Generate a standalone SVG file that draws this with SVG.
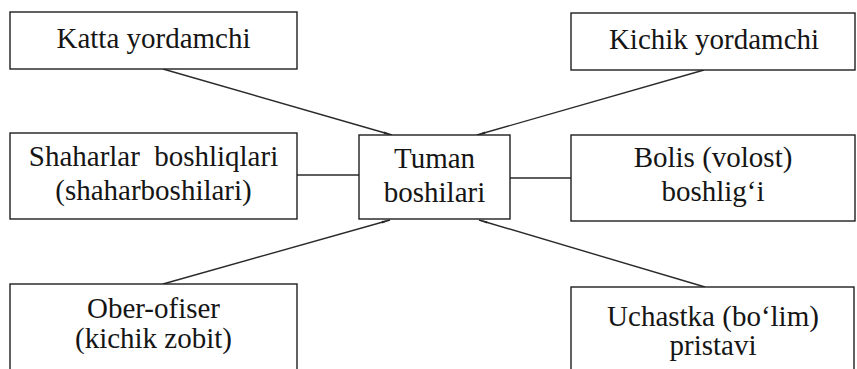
<svg xmlns="http://www.w3.org/2000/svg" width="857" height="369" viewBox="0 0 857 369">
<style>
.box{fill:#fff;stroke:#1e1e1e;stroke-width:1.4}
text{font-family:'Liberation Serif','DejaVu Serif',serif;font-size:29px;fill:#151515;text-anchor:middle}
.c{stroke:#2a2a2a;stroke-width:1.4;fill:none}
</style>
<defs>
<marker id="ah" viewBox="0 0 10 6" refX="10" refY="3" markerWidth="10" markerHeight="5" markerUnits="userSpaceOnUse" orient="auto">
<path d="M0,1.5 L10,3 L0,4.5 Z" fill="#2a2a2a"/>
</marker>
</defs>
<rect width="857" height="369" fill="#fff"/>
<g id="connectors">
<line class="c" x1="163" y1="69" x2="392" y2="135" marker-end="url(#ah)"/>
<line class="c" x1="704" y1="70" x2="477" y2="135" marker-end="url(#ah)"/>
<line class="c" x1="163" y1="284" x2="390" y2="220" marker-end="url(#ah)"/>
<line class="c" x1="705" y1="287" x2="479" y2="220" marker-end="url(#ah)"/>
<line class="c" x1="297" y1="175" x2="359" y2="175"/>
<line class="c" x1="510" y1="178" x2="571" y2="178"/>
</g>
<g id="katta">
<rect class="box" x="10" y="12" width="287" height="57"/>
<text x="153.5" y="48">Katta yordamchi</text>
</g>
<g id="kichik">
<rect class="box" x="571" y="13" width="284" height="57"/>
<text x="714" y="49">Kichik yordamchi</text>
</g>
<g id="shaharlar">
<rect class="box" x="10" y="133" width="287" height="86"/>
<text x="153.5" y="166" word-spacing="7">Shaharlar boshliqlari</text>
<text x="153.5" y="200">(shaharboshilari)</text>
</g>
<g id="tuman">
<rect class="box" x="359" y="135" width="151" height="84"/>
<text x="434.5" y="168">Tuman</text>
<text x="434.5" y="202">boshilari</text>
</g>
<g id="bolis">
<rect class="box" x="571" y="135" width="284" height="86"/>
<text x="713" y="167">Bolis (volost)</text>
<text x="713" y="201">boshlig‘i</text>
</g>
<g id="ober">
<rect class="box" x="10" y="284" width="287" height="100"/>
<text x="153.5" y="318">Ober-ofiser</text>
<text x="153.5" y="348">(kichik zobit)</text>
</g>
<g id="uchastka">
<rect class="box" x="571" y="287" width="283" height="100"/>
<text x="713" y="326">Uchastka (bo‘lim)</text>
<text x="713" y="355">pristavi</text>
</g>
</svg>
